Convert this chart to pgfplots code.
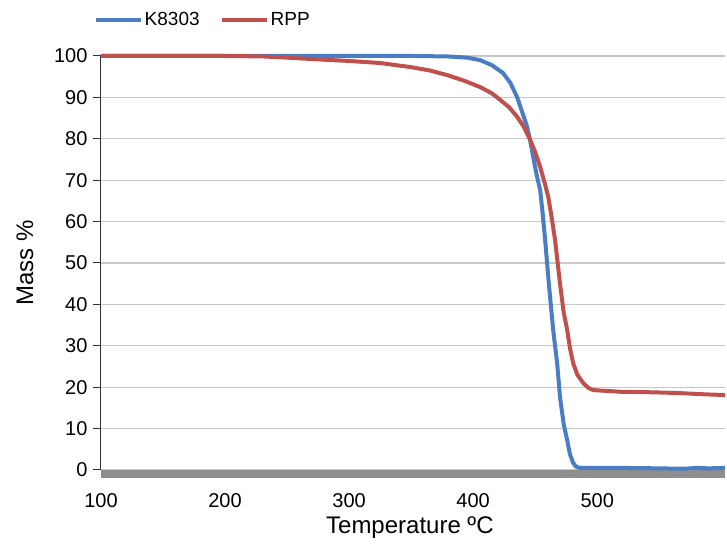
\documentclass[border=0pt]{standalone}
\usepackage{pgfplots}
\pgfplotsset{compat=1.18}
\usepackage{fontspec}
\setmainfont{Liberation Sans}
\definecolor{kblue}{HTML}{4A7EC4}
\definecolor{rred}{HTML}{C0504D}
\definecolor{gridc}{HTML}{C8C8C8}
\definecolor{bandc}{HTML}{8E8E8E}
\begin{document}
\begin{tikzpicture}
\useasboundingbox (-101pt,-75pt) rectangle (626pt,470pt);
\begin{axis}[
  at={(0,0)}, anchor=south west,
  scale only axis, width=624pt, height=414pt,
  xmin=100, xmax=603, ymin=0, ymax=100,
  clip=false,
  axis x line*=bottom, axis y line*=left,
  x axis line style={draw=none},
  y axis line style={draw=black!80, line width=1pt},
  xtick={100,200,300,400,500},
  ytick={0,10,...,100},
  major x tick style={draw=none},
  ytick pos=left, tick align=outside,
  major tick length=8pt,
  y tick style={draw=black!80, line width=1pt},
  ymajorgrids, grid style={gridc, line width=1.2pt},
  /pgf/number format/assume math mode=true,
  ticklabel style={font=\fontsize{20}{22}\selectfont},
  xticklabel style={yshift=-12pt},
  yticklabel style={xshift=-2pt},
  xlabel={Temperature ºC}, ylabel={Mass \%},
  label style={font=\fontsize{24}{26}\selectfont},
  xlabel style={at={(axis description cs:0.495,0)}, anchor=center, yshift=-58pt},
  ylabel style={at={(axis description cs:-0.122,0.5)}, anchor=center},
  legend columns=2,
  legend style={draw=none, fill=none, at={(-0.012,1.087)}, anchor=west,
    font=\fontsize{19}{21}\selectfont, inner sep=0pt,
    /tikz/every even column/.append style={column sep=18pt}},
  legend image code/.code={\draw[#1] (0pt,0pt) -- (45pt,0pt);},
]
\fill[bandc] (axis cs:100,0) rectangle ([yshift=-8pt]axis cs:603,0);
\addplot[kblue, line width=4pt, line join=round] coordinates {
(100,100) (200,100) (300,100) (350,100) (379,99.9) (395,99.6) (405.6,99) (415,97.8)
(424,95.9) (430,93.5) (435.5,90) (440,86) (443.5,82.9) (446,79.5) (448.4,75.6)
(451,71.5) (454,67.6) (456,62) (458,55.6) (461,45) (464.5,33.8) (467.7,25.8)
(470,17.6) (473,11) (475.8,7.2) (478,3.8) (480.6,1.7) (483,0.8) (486,0.5)
(520,0.5) (550,0.4) (570,0.3) (580,0.5) (590,0.4) (603,0.5)
};
\addlegendentry{K8303}
\addplot[rred, line width=4pt, line join=round] coordinates {
(100,100) (200,100) (230,99.9) (250,99.6) (280,99.1) (300,98.8) (325,98.3)
(350,97.3) (365,96.5) (379,95.4) (393,94) (405.6,92.5) (415,91) (421.8,89.4)
(429,87.6) (435.5,85.3) (441,82.8) (446,79.7) (450,76.8) (454,73.2) (457.5,69.5)
(460.5,66) (463,61.5) (466,55.6) (470,45) (473,38) (475.8,33.8) (478,29.5)
(480.6,25.8) (484,23) (488.7,21) (493,19.8) (496.8,19.3) (518.5,18.9) (540,18.8)
(564.5,18.6) (585,18.3) (603,18.1)
};
\addlegendentry{RPP}
\end{axis}
\end{tikzpicture}
\end{document}
